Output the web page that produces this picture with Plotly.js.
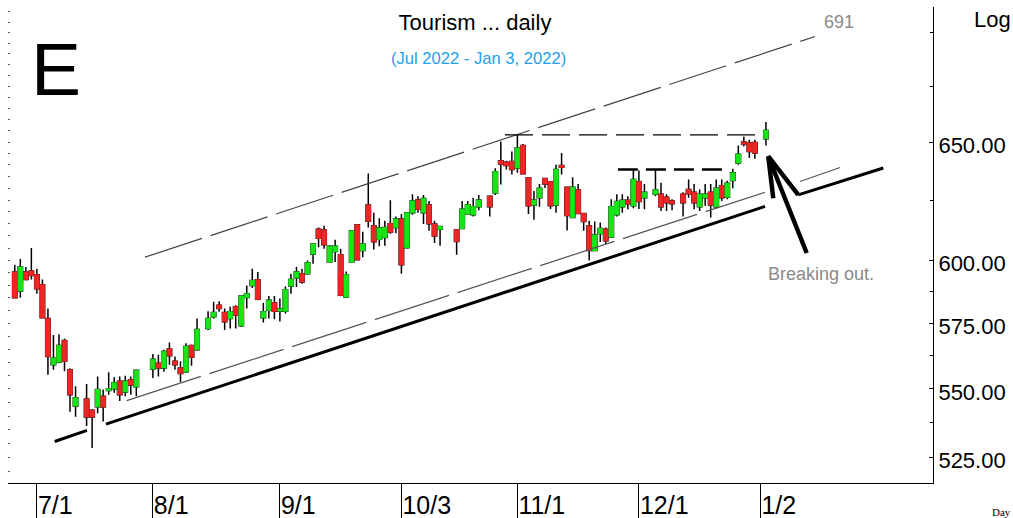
<!DOCTYPE html>
<html>
<head>
<meta charset="utf-8">
<script src="https://cdn.plot.ly/plotly-3.0.1.min.js"></script>
<style>
  html, body { margin: 0; padding: 0; background: #fff; }
  #chart { width: 1013px; height: 518px; }
</style>
</head>
<body>
<div id="chart"></div>
<script>
// ---- data ----
const dates = [
  "2022-06-27","2022-06-28","2022-06-29","2022-06-30","2022-07-01","2022-07-04","2022-07-05","2022-07-06","2022-07-07","2022-07-08",
  "2022-07-11","2022-07-12","2022-07-14","2022-07-15","2022-07-18","2022-07-19","2022-07-20","2022-07-21","2022-07-22","2022-07-25",
  "2022-07-26","2022-07-27","2022-08-01","2022-08-02","2022-08-03","2022-08-04","2022-08-05","2022-08-08","2022-08-09","2022-08-10",
  "2022-08-11","2022-08-15","2022-08-16","2022-08-17","2022-08-18","2022-08-19","2022-08-22","2022-08-23","2022-08-24","2022-08-25",
  "2022-08-26","2022-08-29","2022-08-30","2022-08-31","2022-09-01","2022-09-02","2022-09-05","2022-09-06","2022-09-07","2022-09-08",
  "2022-09-09","2022-09-12","2022-09-13","2022-09-14","2022-09-15","2022-09-16","2022-09-19","2022-09-20","2022-09-21","2022-09-22",
  "2022-09-23","2022-09-26","2022-09-27","2022-09-28","2022-09-29","2022-09-30","2022-10-03","2022-10-04","2022-10-05","2022-10-06",
  "2022-10-07","2022-10-10","2022-10-11","2022-10-12","2022-10-17","2022-10-18","2022-10-19","2022-10-20","2022-10-21","2022-10-25",
  "2022-10-26","2022-10-27","2022-10-28","2022-10-31","2022-11-01","2022-11-02","2022-11-03","2022-11-04","2022-11-07","2022-11-08",
  "2022-11-09","2022-11-10","2022-11-11","2022-11-14","2022-11-15","2022-11-16","2022-11-17","2022-11-18","2022-11-21","2022-11-22",
  "2022-11-23","2022-11-24","2022-11-25","2022-11-28","2022-11-29","2022-11-30","2022-12-01","2022-12-02","2022-12-06","2022-12-07",
  "2022-12-08","2022-12-09","2022-12-13","2022-12-14","2022-12-15","2022-12-16","2022-12-19","2022-12-20","2022-12-21","2022-12-22",
  "2022-12-23","2022-12-26","2022-12-27","2022-12-28","2022-12-29","2022-12-30","2023-01-03"
];
const open = [
  595.3,587.7,595.3,595.7,594.2,590.2,576.9,559.1,560.1,568.3,
  557.2,543.7,546.3,542.1,543.4,547.3,549.4,550.1,552.9,548.9,
  553.4,550.8,557.5,559.7,557.9,565.1,560.4,557.9,556.4,566.4,
  564.8,573.0,577.5,582.1,579.2,576.9,581.5,574.0,585.1,589.9,
  592.2,577.2,580.1,583.0,579.8,579.7,589.7,593.0,594.6,594.6,
  602.6,612.8,612.5,599.3,603.6,602.3,585.3,599.3,614.6,604.0,
  622.9,614.2,608.6,609.4,615.1,613.5,617.0,605.1,619.6,625.0,
  619.6,622.9,614.9,612.8,612.5,613.1,619.1,618.8,622.2,626.6,
  628.0,641.8,641.2,641.5,638.7,648.5,634.5,622.9,626.0,634.2,
  632.8,622.9,639.8,630.4,617.7,629.3,619.3,614.2,604.0,611.0,
  612.8,609.6,618.8,622.2,624.9,622.6,632.8,626.0,627.5,627.5,
  626.2,624.6,627.5,629.5,628.3,622.2,626.0,628.3,622.2,631.1,
  626.2,633.3,640.9,650.0,649.6,649.8,651.5
];
const high = [
  598.2,600.6,597.3,605.0,596.6,592.3,580.8,570.5,570.7,569.0,
  557.8,551.0,551.9,542.5,554.7,549.8,556.3,554.4,554.7,554.9,
  554.7,557.2,563.2,562.9,564.8,567.6,562.2,560.4,567.3,566.8,
  576.9,579.7,583.4,583.6,580.8,581.5,582.1,586.0,589.9,596.6,
  595.3,583.0,585.7,585.7,584.7,589.5,594.6,597.3,596.6,599.9,
  606.9,613.5,614.2,606.3,608.4,604.7,595.5,612.5,615.0,611.7,
  636.3,619.6,617.3,616.3,624.9,618.1,619.1,620.0,627.5,626.6,
  627.1,624.6,616.3,614.2,612.8,624.6,624.6,626.0,627.1,626.9,
  638.6,650.3,641.8,645.9,653.2,649.1,634.8,628.8,631.8,634.5,
  633.0,640.1,645.2,630.6,634.7,631.8,619.5,616.3,616.0,615.6,
  613.5,625.3,627.5,627.5,626.6,637.6,637.6,631.8,638.0,632.3,
  627.5,625.3,628.3,633.7,631.8,629.5,631.8,631.8,633.7,633.7,
  633.2,638.4,648.5,652.5,651.0,651.0,658.9
];
const low = [
  584.7,585.0,591.9,592.3,586.6,576.9,555.3,557.2,559.7,556.6,
  541.6,539.8,536.4,528.5,541.0,538.0,547.9,548.6,545.5,547.3,
  547.9,547.3,554.1,554.7,556.4,559.1,557.2,552.6,556.0,558.7,
  564.4,572.4,576.9,579.5,572.4,573.0,573.0,573.6,580.8,588.9,
  584.0,575.3,576.9,576.6,575.7,578.8,586.6,589.3,590.6,594.2,
  598.6,605.4,604.7,599.0,599.3,585.6,585.0,599.0,599.9,601.3,
  613.5,604.4,605.8,606.0,610.9,611.1,594.6,604.7,618.8,619.6,
  614.9,612.1,607.1,606.0,602.3,612.8,618.8,618.1,620.7,618.1,
  627.1,631.6,638.0,635.9,636.6,635.9,619.1,616.7,622.2,630.1,
  621.2,619.6,635.9,612.3,617.5,619.0,612.1,599.9,603.8,607.5,
  606.7,609.4,618.1,619.6,621.1,621.5,621.2,621.1,626.6,620.4,
  620.4,620.7,618.1,626.0,621.1,620.4,622.6,617.7,621.5,624.6,
  625.3,630.0,640.1,648.1,643.0,642.7,648.5
];
const close = [
  585.0,597.3,592.3,593.9,588.6,577.2,562.2,561.6,566.4,560.4,
  547.9,546.7,539.7,539.7,549.8,543.3,550.1,552.3,547.9,552.9,
  551.5,557.0,561.2,557.9,564.1,562.5,559.1,555.8,566.0,561.9,
  572.6,576.9,579.2,580.8,575.6,579.5,578.2,585.7,586.6,591.9,
  584.4,579.5,584.0,579.7,580.6,588.2,592.3,595.3,591.3,599.0,
  606.7,609.0,606.4,605.8,605.8,586.0,594.2,612.1,600.3,606.7,
  616.1,607.6,613.3,613.5,611.6,617.0,598.2,619.6,624.6,621.1,
  625.7,615.1,610.0,613.9,607.7,621.1,623.0,622.2,625.0,622.2,
  637.1,640.4,639.8,638.0,647.4,636.2,622.6,625.0,630.0,631.8,
  622.6,638.0,639.0,618.5,630.4,619.3,616.0,604.0,610.4,613.1,
  608.0,622.2,624.4,624.9,623.4,633.7,624.4,628.3,629.3,622.2,
  623.9,623.4,623.9,627.7,623.9,627.5,627.5,622.9,630.0,626.0,
  632.1,636.6,644.7,649.1,645.9,645.2,655.1
];
const tickDates  = ["2022-07-01","2022-08-01","2022-09-01","2022-10-03","2022-11-01","2022-12-01","2023-01-02"];
const tickLabels = ["7/1","8/1","9/1","10/3","11/1","12/1","1/2"];
const priceTicks = [525, 550, 575, 600, 650];
const priceMinor = [537.5, 562.5, 587.5, 625, 675, 700];

// hand-drawn chart lines, in (weekday slot, price)
const upperChannelX = [19.57, 140.88], upperChannelY = [601.3, 698.1];
const midChannelX = [16.26, 131.83, null, 138.17, 145.41], midChannelY = [545.7, 628.3, null, 632.9, 638.9];
const supportX = [3.22, 9.07, null, 12.51, 131.83, null, 137.86, 153.25];
const supportY = [530.8, 534.8, null, 537.1, 622.3, null, 627.2, 638.7];
const resistTopX = [84.76, 130.9], resistTopY = [653.2, 653.2];
const resistMidX = [105.2, 124.8], resistMidY = [638.0, 638.0];
const arrowX = [139.38, 132.43, null, 133.33, 132.43, 137.86];
const arrowY = [603.0, 643.7, null, 625.8, 643.7, 627.2];

// ---- weekday-slot positions (weekends skipped, holidays stay empty) ----
function slot(s) {
  const base = Date.UTC(2022, 6, 1); // Friday 2022-07-01
  const p = s.split('-').map(Number);
  const days = Math.round((Date.UTC(p[0], p[1] - 1, p[2]) - base) / 864e5);
  const w = Math.floor(days / 7), r = days - w * 7;
  const map = [0, 1, 1, 1, 2, 3, 4];
  return w * 5 + map[r];
}
const xs = dates.map(slot);
const tickX = tickDates.map(slot);
const bodyHigh = open.map((o, i) => Math.max(o, close[i]));
const bodyLow  = open.map((o, i) => Math.min(o, close[i]));

const GREEN = '#18e418', RED = '#f02626';
const sans = '"Liberation Sans", Arial, sans-serif';

const traces = [
  {type: 'scatter', mode: 'lines', x: upperChannelX, y: upperChannelY, hoverinfo: 'skip',
   line: {color: '#444', width: 1.2, dash: '60px,9px'}},
  {type: 'scatter', mode: 'lines', x: midChannelX, y: midChannelY, hoverinfo: 'skip', connectgaps: false,
   line: {color: '#555', width: 1.2, dash: '78px,9px'}},
  {type: 'scatter', mode: 'lines', x: supportX, y: supportY, hoverinfo: 'skip', connectgaps: false,
   line: {color: '#000', width: 3}},
  {type: 'scatter', mode: 'lines', x: resistTopX, y: resistTopY, hoverinfo: 'skip',
   line: {color: '#000', width: 1.3, dash: '28px,9px'}},
  {type: 'scatter', mode: 'lines', x: resistMidX, y: resistMidY, hoverinfo: 'skip',
   line: {color: '#000', width: 2.5, dash: '20px,8px'}},
  {type: 'candlestick', x: xs, open: open, high: high, low: low, close: close, hoverinfo: 'skip',
   whiskerwidth: 0,
   increasing: {line: {color: '#000', width: 1.5}, fillcolor: '#000'},
   decreasing: {line: {color: '#000', width: 1.5}, fillcolor: '#000'}},
  {type: 'candlestick', x: xs, open: open, high: bodyHigh, low: bodyLow, close: close, hoverinfo: 'skip',
   whiskerwidth: 0,
   increasing: {line: {color: GREEN, width: 1}, fillcolor: GREEN},
   decreasing: {line: {color: RED, width: 1}, fillcolor: RED}},
  {type: 'scatter', mode: 'lines', x: arrowX, y: arrowY, hoverinfo: 'skip', connectgaps: false,
   line: {color: '#000', width: 4.5}},
  {type: 'scatter', mode: 'lines', x: [null], y: [null], yaxis: 'y2', hoverinfo: 'skip'}
];

const yRange = [Math.log10(516.1), Math.log10(712.2)];
const leftDots = [];
for (let v = 520; v <= 710; v += 5) leftDots.push(v);

const layout = {
  width: 1013, height: 518,
  margin: {l: 8, r: 80, t: 7, b: 35},
  paper_bgcolor: '#fff', plot_bgcolor: '#fff',
  showlegend: false,
  boxgap: 0.1, boxgroupgap: 0.1,
  title: {text: 'Tourism ... daily', x: (475 - 8) / 925, xref: 'paper', y: 1 - 22 / 518, yref: 'container',
          xanchor: 'center', yanchor: 'middle', font: {family: sans, size: 22, color: '#000'}},
  xaxis: {
    range: [-5.23, 162.25], rangeslider: {visible: false},
    tickmode: 'array', tickvals: tickX, ticktext: tickLabels,
    ticks: 'outside', ticklen: 34, tickwidth: 1, tickcolor: '#000',
    ticklabelposition: 'outside right',
    tickfont: {family: sans, size: 25, color: '#000'},
    showline: true, linecolor: '#000', linewidth: 1,
    showgrid: false, zeroline: false, fixedrange: true
  },
  yaxis: {
    type: 'log', side: 'right', range: yRange,
    tickmode: 'array', tickvals: priceTicks, ticktext: priceTicks.map(v => v.toFixed(2)),
    ticks: 'inside', ticklen: 4, tickwidth: 1, tickcolor: '#000',
    ticklabelshift: 3,
    minor: {tickmode: 'array', tickvals: priceMinor, ticks: 'inside', ticklen: 3, tickcolor: '#000', showgrid: false},
    tickfont: {family: sans, size: 22, color: '#000'},
    showline: true, linecolor: '#000', linewidth: 1,
    showgrid: false, zeroline: false, fixedrange: true
  },
  yaxis2: {
    type: 'log', overlaying: 'y', side: 'left', anchor: 'x', range: yRange,
    tickmode: 'array', tickvals: leftDots, ticks: 'inside', ticklen: 2, tickwidth: 1, tickcolor: '#555',
    showticklabels: false, showline: false, showgrid: false, zeroline: false, fixedrange: true
  },
  annotations: [
    {text: 'E', xref: 'paper', yref: 'paper', x: (56 - 8) / 925, y: (483 - 69.5) / 476,
     xanchor: 'center', yanchor: 'middle', showarrow: false, font: {family: sans, size: 75, color: '#000'}},
    {text: '(Jul 2022 - Jan 3, 2022)', xref: 'paper', yref: 'paper', x: (478.5 - 8) / 925, y: (483 - 59) / 476,
     xanchor: 'center', yanchor: 'middle', showarrow: false, font: {family: sans, size: 16.6, color: '#22a0e6'}},
    {text: '691', xref: 'paper', yref: 'paper', x: (839 - 8) / 925, y: (483 - 22) / 476,
     xanchor: 'center', yanchor: 'middle', showarrow: false, font: {family: sans, size: 18, color: '#8a8a8a'}},
    {text: 'Log', xref: 'paper', yref: 'paper', x: (972 - 8) / 925, y: (483 - 19) / 476,
     xanchor: 'left', yanchor: 'middle', showarrow: false, font: {family: sans, size: 22, color: '#000'}},
    {text: 'Breaking out.', xref: 'paper', yref: 'paper', x: (820.5 - 8) / 925, y: (483 - 274) / 476,
     xanchor: 'center', yanchor: 'middle', showarrow: false, font: {family: sans, size: 18, color: '#8a8a8a'}},
    {text: 'Day', xref: 'paper', yref: 'paper', x: (990 - 8) / 925, y: (483 - 512) / 476,
     xanchor: 'left', yanchor: 'middle', showarrow: false, font: {family: '"Liberation Serif", "DejaVu Serif", serif', size: 11, color: '#000'}}
  ]
};

Plotly.newPlot('chart', traces, layout, {staticPlot: true, displayModeBar: false});
</script>
</body>
</html>
